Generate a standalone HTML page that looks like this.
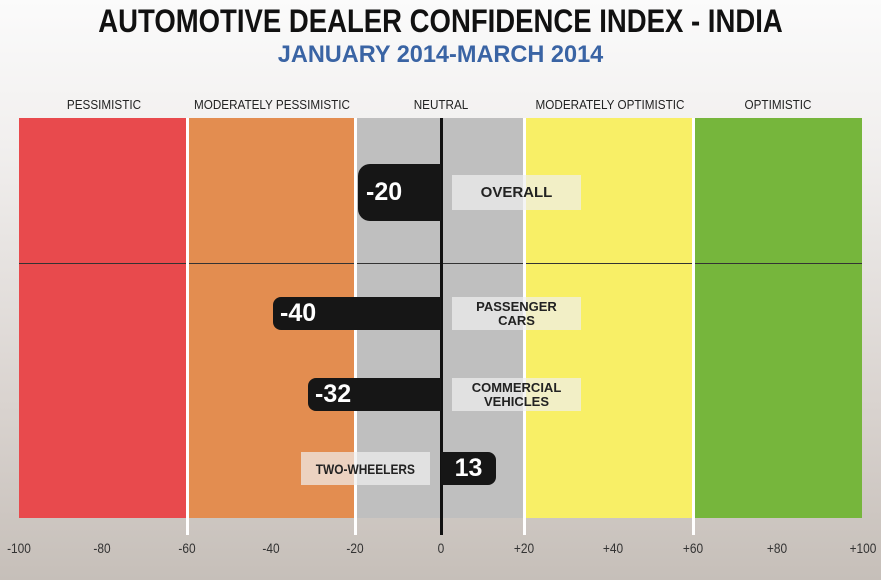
<!DOCTYPE html>
<html><head><style>
body{margin:0;width:881px;height:580px;overflow:hidden;position:relative;font-family:"Liberation Sans",sans-serif;background:linear-gradient(#fbfbfb 0%,#f1efee 25%,#d9d3cf 70%,#c6bfb9 100%);}
.a{position:absolute}
.t{position:absolute;white-space:nowrap;transform-origin:center;text-align:center}
.band{position:absolute;top:118px;height:400px}
.vl{position:absolute;top:118px;width:3px;height:417px;background:#fff}
.bar{position:absolute;background:#161616;color:#fff;font-weight:bold;font-size:25px;display:flex;align-items:center}
.lab{position:absolute;background:rgba(240,240,240,0.7);font-weight:bold;font-size:13px;color:#222;display:flex;align-items:center;justify-content:center;text-align:center;line-height:14px}
.tick{position:absolute;top:540px;font-size:14px;color:#333;width:50px;text-align:center;transform:scaleX(0.85)}
.hd{position:absolute;top:97px;font-size:13px;color:#222;width:200px;text-align:center;transform:scaleX(0.9)}
</style></head><body>
<div class="t" style="left:0;width:881px;top:3px;font-size:32px;font-weight:bold;color:#111;transform:scaleX(0.86)">AUTOMOTIVE DEALER CONFIDENCE INDEX - INDIA</div>
<div class="t" style="left:0;width:881px;top:41px;font-size:24px;font-weight:bold;color:#3a64a4;transform:scaleX(0.98)">JANUARY 2014-MARCH 2014</div>

<div class="hd" style="left:4px">PESSIMISTIC</div>
<div class="hd" style="left:172px">MODERATELY PESSIMISTIC</div>
<div class="hd" style="left:341px">NEUTRAL</div>
<div class="hd" style="left:510px">MODERATELY OPTIMISTIC</div>
<div class="hd" style="left:678px">OPTIMISTIC</div>

<div class="band" style="left:19px;width:168px;background:#e84a4d"></div>
<div class="band" style="left:188px;width:168px;background:#e38d50"></div>
<div class="band" style="left:356px;width:169px;background:#bfbfbf"></div>
<div class="band" style="left:525px;width:169px;background:#f8ef66"></div>
<div class="band" style="left:694px;width:168px;background:#76b63c"></div>
<div class="a" style="left:19px;top:263px;width:843px;height:1px;background:#333"></div>
<div class="vl" style="left:186px"></div>
<div class="vl" style="left:354px"></div>
<div class="vl" style="left:523px"></div>
<div class="vl" style="left:692px"></div>
<div class="a" style="left:440px;top:118px;width:3px;height:417px;background:#111"></div>

<div class="bar" style="left:358px;top:164px;width:83px;height:57px;border-radius:12px 0 0 12px;padding-left:8px;box-sizing:border-box">-20</div>
<div class="bar" style="left:273px;top:297px;width:168px;height:33px;border-radius:8px 0 0 8px;padding-left:7px;box-sizing:border-box">-40</div>
<div class="bar" style="left:308px;top:378px;width:133px;height:33px;border-radius:8px 0 0 8px;padding-left:7px;box-sizing:border-box">-32</div>
<div class="bar" style="left:441px;top:452px;width:55px;height:33px;border-radius:0 8px 8px 0;justify-content:center">13</div>

<div class="lab" style="left:452px;top:175px;width:129px;height:35px;font-size:15px">OVERALL</div>
<div class="lab" style="left:452px;top:297px;width:129px;height:33px">PASSENGER<br>CARS</div>
<div class="lab" style="left:452px;top:378px;width:129px;height:33px">COMMERCIAL<br>VEHICLES</div>
<div class="lab" style="left:301px;top:452px;width:129px;height:33px;font-size:14px"><span style="display:inline-block;transform:scaleX(0.85)">TWO-WHEELERS</span></div>

<div class="tick" style="left:-6px">-100</div>
<div class="tick" style="left:77px">-80</div>
<div class="tick" style="left:162px">-60</div>
<div class="tick" style="left:246px">-40</div>
<div class="tick" style="left:330px">-20</div>
<div class="tick" style="left:416px">0</div>
<div class="tick" style="left:499px">+20</div>
<div class="tick" style="left:588px">+40</div>
<div class="tick" style="left:668px">+60</div>
<div class="tick" style="left:752px">+80</div>
<div class="tick" style="left:838px">+100</div>
</body></html>
